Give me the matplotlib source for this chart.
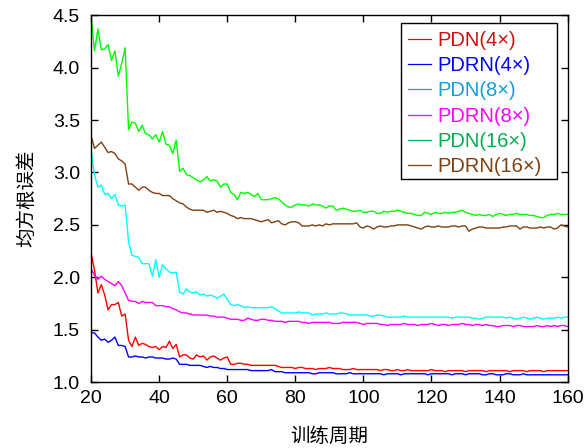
import matplotlib
matplotlib.use('Agg')
import matplotlib.pyplot as plt
from matplotlib.patches import Rectangle

plt.rcParams['font.family'] = ['Liberation Sans', 'Noto Sans CJK SC', 'DejaVu Sans']

# training epochs
epochs = list(range(20, 161))

# RMSE per epoch
pdn_4x = [
    2.23, 2.07, 1.85, 1.93, 1.83, 1.69, 1.74, 1.74, 1.76, 1.63,
    1.65, 1.40, 1.34, 1.43, 1.35, 1.37, 1.36, 1.34, 1.33, 1.34,
    1.31, 1.34, 1.33, 1.39, 1.32, 1.36, 1.24, 1.26, 1.26, 1.23,
    1.22, 1.26, 1.24, 1.25, 1.21, 1.24, 1.25, 1.23, 1.21, 1.23,
    1.24, 1.17, 1.17, 1.18, 1.18, 1.17, 1.17, 1.16, 1.16, 1.16,
    1.16, 1.16, 1.16, 1.16, 1.16, 1.15, 1.14, 1.14, 1.14, 1.14,
    1.13, 1.14, 1.14, 1.13, 1.13, 1.13, 1.12, 1.13, 1.13, 1.13,
    1.14, 1.13, 1.13, 1.13, 1.12, 1.12, 1.12, 1.13, 1.12, 1.12,
    1.12, 1.12, 1.12, 1.12, 1.12, 1.11, 1.12, 1.12, 1.11, 1.11,
    1.12, 1.11, 1.11, 1.12, 1.11, 1.11, 1.11, 1.11, 1.11, 1.11,
    1.12, 1.11, 1.11, 1.11, 1.10, 1.11, 1.11, 1.11, 1.11, 1.11,
    1.10, 1.11, 1.11, 1.11, 1.11, 1.11, 1.10, 1.11, 1.11, 1.11,
    1.11, 1.11, 1.11, 1.10, 1.11, 1.11, 1.11, 1.11, 1.10, 1.11,
    1.11, 1.11, 1.11, 1.10, 1.11, 1.11, 1.11, 1.11, 1.11, 1.11,
    1.11,
]
pdrn_4x = [
    1.47, 1.47, 1.43, 1.40, 1.41, 1.38, 1.40, 1.43, 1.35, 1.35,
    1.34, 1.24, 1.24, 1.25, 1.24, 1.24, 1.23, 1.24, 1.24, 1.23,
    1.23, 1.23, 1.22, 1.22, 1.23, 1.22, 1.17, 1.17, 1.17, 1.16,
    1.16, 1.16, 1.16, 1.15, 1.14, 1.15, 1.14, 1.14, 1.13, 1.13,
    1.12, 1.12, 1.12, 1.12, 1.12, 1.12, 1.12, 1.11, 1.11, 1.11,
    1.11, 1.11, 1.11, 1.12, 1.10, 1.10, 1.10, 1.09, 1.09, 1.09,
    1.09, 1.09, 1.09, 1.09, 1.09, 1.08, 1.08, 1.09, 1.09, 1.09,
    1.09, 1.09, 1.08, 1.08, 1.08, 1.08, 1.09, 1.08, 1.08, 1.08,
    1.08, 1.08, 1.08, 1.08, 1.08, 1.08, 1.07, 1.08, 1.08, 1.08,
    1.08, 1.07, 1.08, 1.08, 1.08, 1.08, 1.08, 1.08, 1.08, 1.07,
    1.08, 1.08, 1.08, 1.08, 1.08, 1.08, 1.07, 1.08, 1.08, 1.08,
    1.07, 1.08, 1.08, 1.08, 1.08, 1.07, 1.07, 1.08, 1.08, 1.07,
    1.07, 1.07, 1.08, 1.08, 1.07, 1.07, 1.07, 1.08, 1.07, 1.07,
    1.07, 1.07, 1.07, 1.07, 1.07, 1.07, 1.07, 1.07, 1.07, 1.07,
    1.07,
]
pdn_8x = [
    3.21, 2.98, 2.86, 2.88, 2.79, 2.80, 2.75, 2.79, 2.69, 2.68,
    2.69, 2.34, 2.21, 2.20, 2.19, 2.13, 2.13, 2.13, 2.01, 2.17,
    2.00, 2.12, 2.08, 2.05, 2.04, 2.05, 1.86, 1.84, 1.89, 1.86,
    1.85, 1.86, 1.83, 1.84, 1.82, 1.83, 1.82, 1.80, 1.82, 1.84,
    1.79, 1.74, 1.73, 1.74, 1.73, 1.71, 1.72, 1.71, 1.71, 1.71,
    1.71, 1.71, 1.71, 1.72, 1.70, 1.68, 1.66, 1.66, 1.66, 1.66,
    1.66, 1.67, 1.66, 1.66, 1.66, 1.64, 1.65, 1.65, 1.65, 1.66,
    1.65, 1.65, 1.65, 1.66, 1.66, 1.65, 1.64, 1.64, 1.64, 1.64,
    1.64, 1.64, 1.63, 1.63, 1.64, 1.64, 1.63, 1.62, 1.62, 1.62,
    1.62, 1.62, 1.63, 1.62, 1.62, 1.62, 1.62, 1.62, 1.62, 1.62,
    1.62, 1.62, 1.62, 1.62, 1.62, 1.62, 1.61, 1.62, 1.62, 1.62,
    1.62, 1.62, 1.61, 1.61, 1.60, 1.61, 1.62, 1.62, 1.62, 1.62,
    1.62, 1.62, 1.61, 1.62, 1.61, 1.60, 1.61, 1.62, 1.61, 1.60,
    1.61, 1.62, 1.61, 1.60, 1.61, 1.61, 1.61, 1.62, 1.61, 1.62,
    1.62,
]
pdrn_8x = [
    2.08, 2.02, 1.98, 2.01, 1.98, 1.96, 1.94, 1.92, 1.96, 1.92,
    1.85, 1.78, 1.77, 1.77, 1.75, 1.77, 1.76, 1.76, 1.76, 1.73,
    1.73, 1.73, 1.72, 1.72, 1.70, 1.69, 1.67, 1.66, 1.66, 1.65,
    1.64, 1.64, 1.64, 1.64, 1.64, 1.63, 1.63, 1.62, 1.62, 1.62,
    1.61, 1.60, 1.60, 1.60, 1.59, 1.59, 1.61, 1.60, 1.59, 1.59,
    1.60, 1.60, 1.59, 1.59, 1.58, 1.58, 1.58, 1.57, 1.58, 1.58,
    1.58, 1.58, 1.57, 1.57, 1.56, 1.57, 1.57, 1.57, 1.57, 1.57,
    1.57, 1.56, 1.56, 1.56, 1.57, 1.57, 1.57, 1.57, 1.57, 1.56,
    1.55, 1.56, 1.56, 1.56, 1.56, 1.55, 1.55, 1.54, 1.55, 1.55,
    1.55, 1.55, 1.56, 1.55, 1.55, 1.55, 1.54, 1.55, 1.55, 1.55,
    1.56, 1.55, 1.54, 1.55, 1.55, 1.54, 1.55, 1.55, 1.55, 1.56,
    1.55, 1.55, 1.54, 1.55, 1.55, 1.54, 1.55, 1.54, 1.54, 1.53,
    1.53, 1.54, 1.54, 1.54, 1.53, 1.54, 1.54, 1.53, 1.53, 1.53,
    1.53, 1.54, 1.53, 1.53, 1.54, 1.53, 1.54, 1.53, 1.54, 1.54,
    1.53,
]
pdn_16x = [
    4.49, 4.16, 4.37, 4.17, 4.18, 4.22, 4.07, 4.16, 3.92, 4.04,
    4.19, 3.41, 3.48, 3.47, 3.39, 3.45, 3.37, 3.36, 3.32, 3.36,
    3.29, 3.39, 3.27, 3.26, 3.18, 3.31, 3.01, 3.04, 2.98, 2.97,
    2.95, 2.93, 2.91, 2.93, 2.96, 2.92, 2.93, 2.92, 2.86, 2.89,
    2.89, 2.81, 2.79, 2.74, 2.81, 2.80, 2.81, 2.79, 2.77, 2.80,
    2.74, 2.74, 2.74, 2.75, 2.76, 2.75, 2.72, 2.69, 2.67, 2.67,
    2.69, 2.70, 2.69, 2.69, 2.68, 2.70, 2.69, 2.69, 2.68, 2.66,
    2.68, 2.68, 2.64, 2.65, 2.66, 2.65, 2.64, 2.63, 2.63, 2.64,
    2.62, 2.62, 2.63, 2.63, 2.61, 2.61, 2.63, 2.62, 2.63, 2.63,
    2.64, 2.63, 2.62, 2.61, 2.61, 2.60, 2.59, 2.59, 2.62, 2.61,
    2.60, 2.62, 2.61, 2.61, 2.62, 2.61, 2.62, 2.62, 2.63, 2.64,
    2.62, 2.61, 2.60, 2.59, 2.60, 2.59, 2.59, 2.60, 2.58, 2.60,
    2.61, 2.60, 2.59, 2.60, 2.60, 2.61, 2.60, 2.60, 2.60, 2.59,
    2.59, 2.58, 2.57, 2.57, 2.59, 2.60, 2.60, 2.61, 2.60, 2.60,
    2.60,
]
pdrn_16x = [
    3.35, 3.23, 3.26, 3.29, 3.24, 3.19, 3.20, 3.18, 3.13, 3.11,
    3.08, 2.89, 2.89, 2.86, 2.83, 2.86, 2.86, 2.83, 2.81, 2.80,
    2.80, 2.78, 2.78, 2.78, 2.75, 2.73, 2.71, 2.70, 2.67, 2.65,
    2.64, 2.64, 2.64, 2.64, 2.62, 2.63, 2.64, 2.62, 2.63, 2.62,
    2.61, 2.59, 2.58, 2.56, 2.57, 2.56, 2.56, 2.56, 2.55, 2.54,
    2.53, 2.54, 2.55, 2.52, 2.53, 2.54, 2.51, 2.50, 2.52, 2.53,
    2.53, 2.52, 2.49, 2.49, 2.49, 2.50, 2.49, 2.50, 2.49, 2.51,
    2.50, 2.51, 2.51, 2.51, 2.51, 2.51, 2.51, 2.51, 2.52, 2.48,
    2.47, 2.49, 2.48, 2.46, 2.48, 2.49, 2.48, 2.48, 2.49, 2.49,
    2.50, 2.50, 2.50, 2.50, 2.49, 2.48, 2.47, 2.46, 2.48, 2.49,
    2.48, 2.48, 2.49, 2.48, 2.48, 2.48, 2.49, 2.49, 2.48, 2.49,
    2.49, 2.44, 2.46, 2.47, 2.48, 2.48, 2.47, 2.47, 2.47, 2.47,
    2.47, 2.48, 2.48, 2.49, 2.49, 2.49, 2.46, 2.48, 2.48, 2.47,
    2.47, 2.47, 2.48, 2.47, 2.48, 2.48, 2.46, 2.47, 2.50, 2.49,
    2.48,
]

labels = ['PDN(4×)', 'PDRN(4×)', 'PDN(8×)', 'PDRN(8×)', 'PDN(16×)', 'PDRN(16×)']
line_colors = ['#ff0000', '#0000ff', '#00ffff', '#ff00ff', '#00ff00', '#7f4010']
legend_colors = ['#d01010', '#0000ff', '#10a0d8', '#ff00ff', '#00b050', '#7f4010']
series = [pdn_4x, pdrn_4x, pdn_8x, pdrn_8x, pdn_16x, pdrn_16x]

fig = plt.figure(figsize=(5.84, 4.48), dpi=100)
ax = fig.add_axes([0.156, 0.147, 0.816, 0.819])

for ys, lab, c in zip(series, labels, line_colors):
    ax.plot(epochs, ys, color=c, lw=1.0, label=lab)

ax.set_xlim(20, 160)
ax.set_ylim(1.0, 4.5)
ax.set_xticks(range(20, 161, 20))
ax.set_yticks([1.0, 1.5, 2.0, 2.5, 3.0, 3.5, 4.0, 4.5])
ax.set_yticklabels(['1.0', '1.5', '2.0', '2.5', '3.0', '3.5', '4.0', '4.5'])
ax.tick_params(direction='in', top=True, right=True, length=5, width=1,
               labelsize=14)
ax.tick_params(axis='y', pad=8)
ax.tick_params(axis='x', pad=6)
for sp in ax.spines.values():
    sp.set_linewidth(1.0)

ax.set_xlabel('训练周期', fontsize=14, labelpad=14)
ax.set_ylabel('均方根误差', fontsize=14, labelpad=12)

# legend entries without matplotlib's own frame; the box is drawn separately
leg = ax.legend(loc='upper left', bbox_to_anchor=(408 / 584, 1 - 31 / 448),
                bbox_transform=fig.transFigure,
                borderaxespad=0, borderpad=0, fontsize=14.5, frameon=False,
                handlelength=1.15, handletextpad=0.3, labelspacing=0.31)
for h, t, c in zip(leg.get_lines(), leg.get_texts(), legend_colors):
    h.set_color(c)
    h.set_linewidth(0.9)
    t.set_color(c)
leg.set_zorder(6)

box = Rectangle((400.7 / 584, 1 - 179.3 / 448), 156.6 / 584, 156 / 448,
                transform=fig.transFigure, facecolor='white',
                edgecolor='black', lw=1.0, zorder=5, clip_on=False)
ax.add_patch(box)

fig.savefig('out.png', dpi=100)
